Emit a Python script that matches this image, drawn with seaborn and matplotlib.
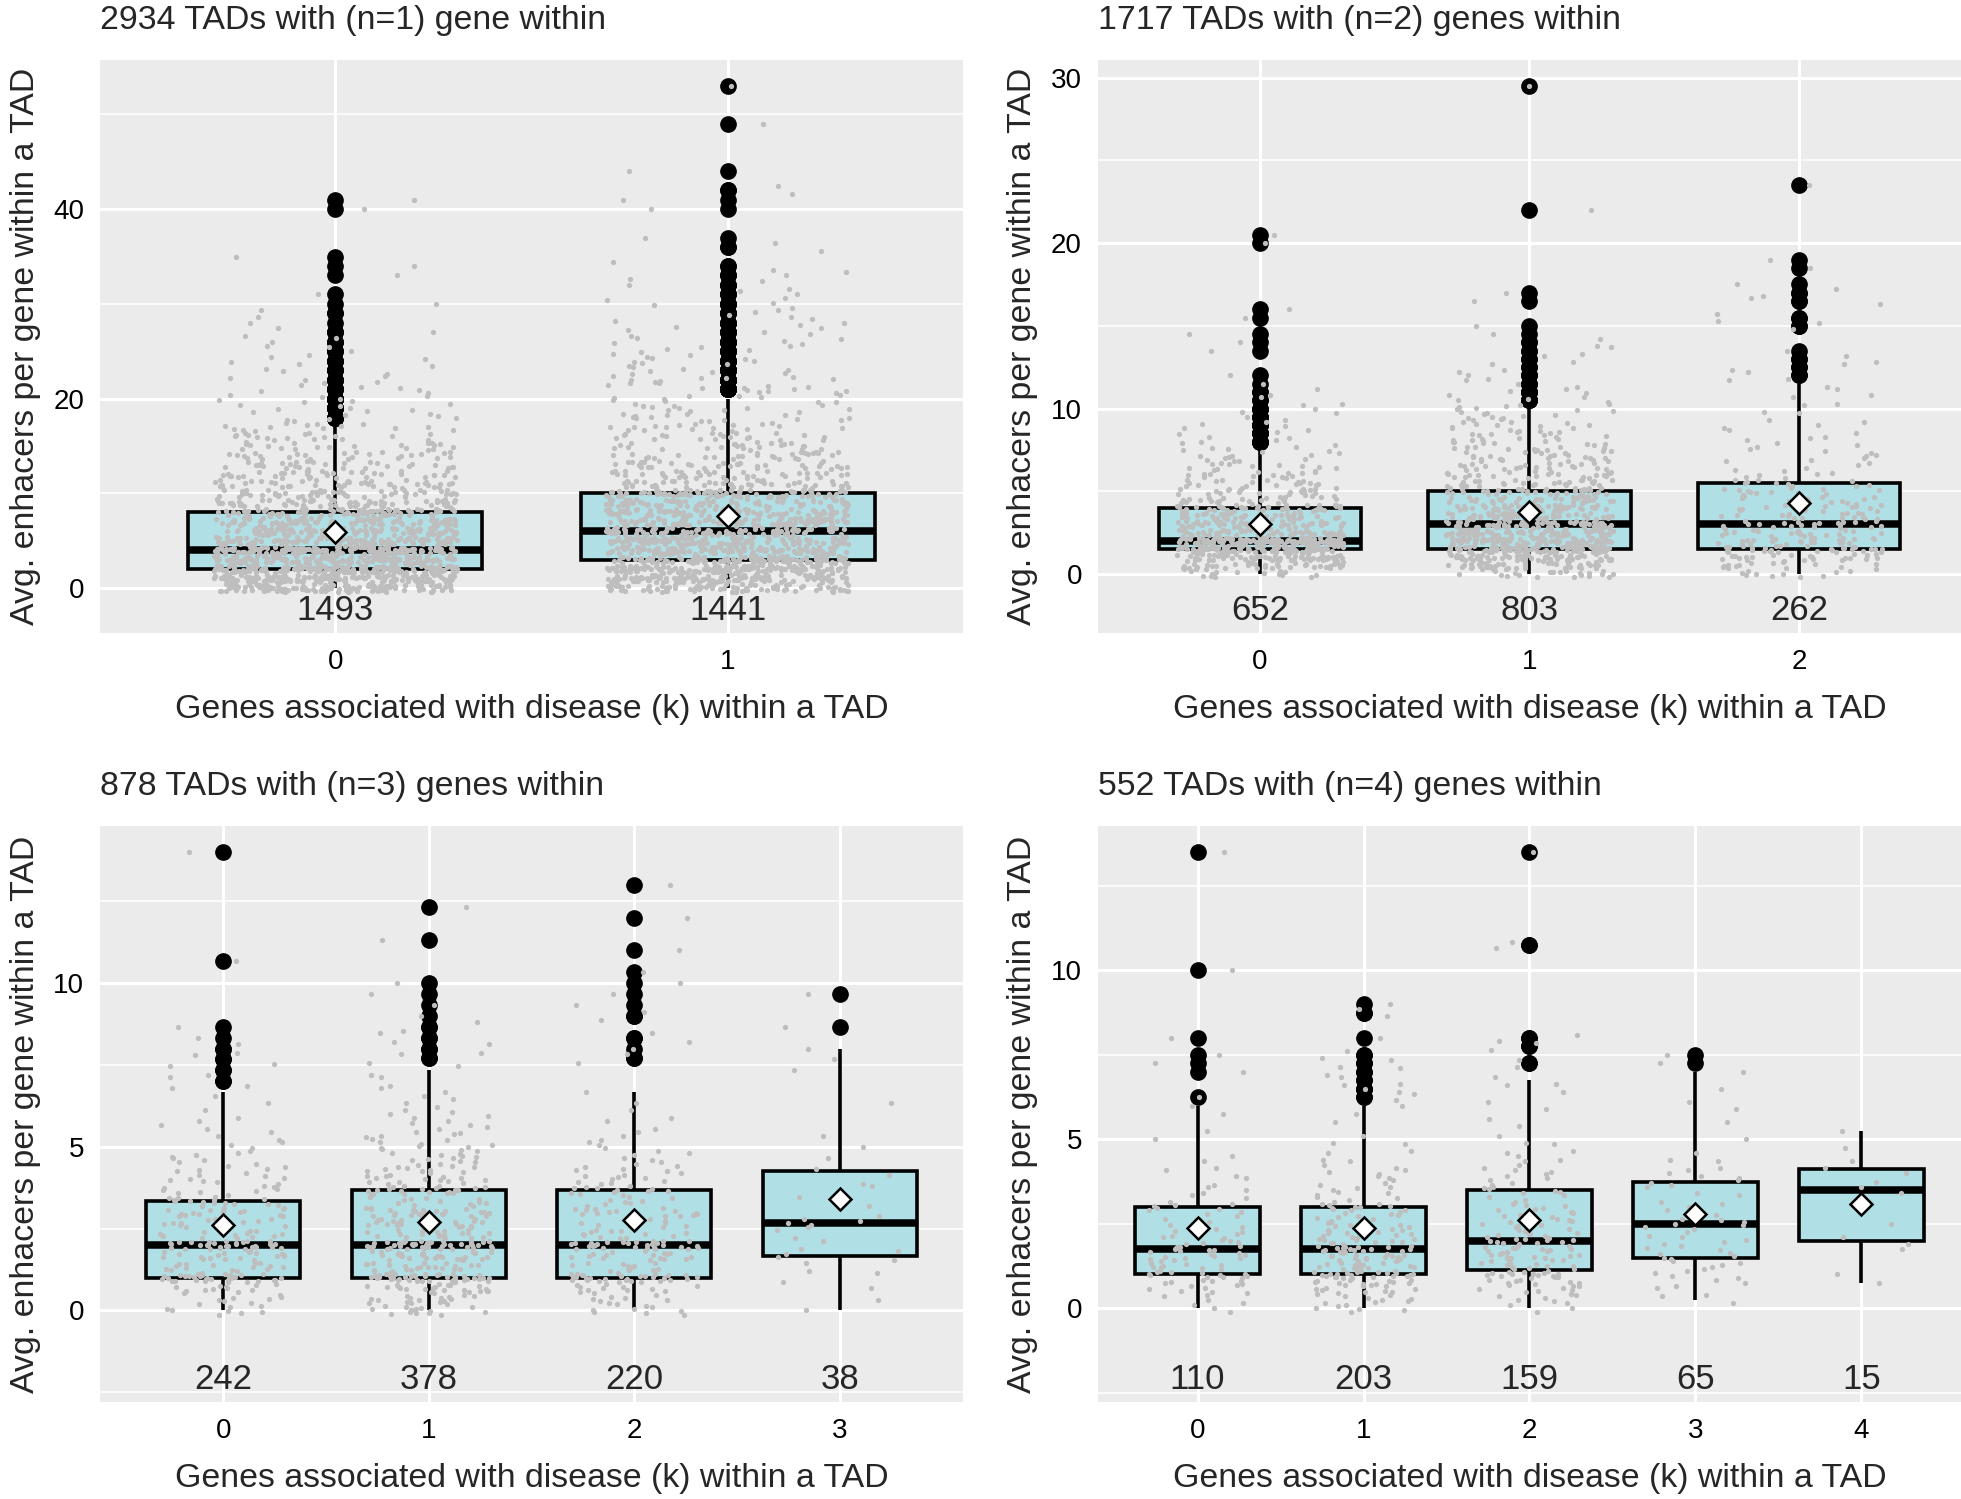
import numpy as np
import pandas as pd
import seaborn as sns
import matplotlib.pyplot as plt
from matplotlib.ticker import FixedLocator

# Avg. enhancers per gene, given as value / count tables.
# Each panel = TADs holding n genes, each group = k disease genes in the TAD.

# n = 1
n1_k = ["0", "1"]
n1_k0_vals = [0, 1, 2, 3, 4, 5, 6, 7, 8, 9, 10, 11, 12, 13, 14, 15, 16, 17, 18, 19, 20,
              21, 22, 23, 24, 25, 26, 27, 28, 29, 30, 31, 33, 34, 35, 40, 41]
n1_k0_cnts = [120, 160, 170, 145, 160, 115, 100, 90, 80, 60, 50, 42, 35, 30, 25, 20, 17, 14, 7, 8, 7,
              6, 5, 4, 4, 3, 3, 3, 1, 2, 1, 1, 1, 1, 1, 1, 1]
n1_k1_vals = [0, 1, 2, 3, 4, 5, 6, 7, 8, 9, 10, 11, 12, 13, 14, 15, 16, 17, 18, 19, 20,
              21, 22, 23, 24, 25, 26, 27, 28, 29, 30, 31, 32, 33, 34, 36, 37, 40, 41, 42, 44, 49, 53]
n1_k1_cnts = [80, 120, 134, 120, 115, 110, 100, 95, 85, 72, 85, 45, 38, 32, 27, 23, 20, 17, 14, 12, 10,
              11, 10, 8, 7, 6, 6, 5, 5, 4, 4, 3, 3, 3, 2, 2, 1, 1, 1, 2, 1, 1, 1]

# n = 2
n2_k = ["0", "1", "2"]
n2_k0_vals = [0, 0.5, 1, 1.5, 2, 2.5, 3, 3.5, 4, 4.5, 5, 5.5, 6, 6.5, 7, 7.5, 8, 8.5, 9, 9.5, 10,
              10.5, 11, 11.5, 12, 13.5, 14, 14.5, 15.5, 16, 20, 20.5]
n2_k0_cnts = [15, 40, 65, 85, 125, 55, 50, 40, 40, 25, 22, 17, 14, 11, 9, 7, 5, 4, 4, 3, 3,
              2, 2, 1, 1, 1, 1, 1, 1, 1, 1, 1]
n2_k1_vals = [0, 0.5, 1, 1.5, 2, 2.5, 3, 3.5, 4, 4.5, 5, 5.5, 6, 6.5, 7, 7.5, 8, 8.5, 9, 9.5, 10,
              10.5, 11, 11.5, 12, 12.5, 13, 13.5, 14, 14.5, 15, 16.5, 17, 22, 29.5]
n2_k1_cnts = [20, 45, 70, 90, 85, 75, 70, 50, 45, 35, 35, 25, 22, 20, 18, 16, 14, 12, 10, 9, 8,
              5, 4, 3, 3, 2, 2, 2, 2, 1, 1, 1, 1, 1, 1]
n2_k2_vals = [0, 0.5, 1, 1.5, 2, 2.5, 3, 3.5, 4, 4.5, 5, 5.5, 6, 6.5, 7, 7.5, 8, 8.5, 9, 9.5, 10,
              10.5, 11, 11.5, 12, 12.5, 13, 13.5, 15, 15.5, 16.5, 17, 17.5, 18.5, 19, 23.5]
n2_k2_cnts = [10, 14, 22, 30, 25, 20, 20, 16, 14, 11, 12, 10, 6, 4, 5, 4, 4, 3, 3, 2, 2,
              2, 2, 2, 2, 2, 2, 1, 2, 2, 2, 2, 1, 1, 1, 1]

# n = 3
n3_k = ["0", "1", "2", "3"]
n3_k0_vals = [0, 0.33, 0.67, 1, 1.33, 1.67, 2, 2.33, 2.67, 3, 3.33, 3.67, 4, 4.33, 4.67, 5, 5.33,
              5.67, 6, 6.33, 6.67, 7, 7.33, 7.67, 8, 8.33, 8.67, 10.67, 14]
n3_k0_cnts = [8, 8, 12, 35, 15, 18, 30, 14, 14, 16, 15, 9, 8, 7, 6, 4, 3,
              3, 2, 1, 2, 2, 2, 2, 2, 1, 1, 1, 1]
n3_k1_vals = [0, 0.33, 0.67, 1, 1.33, 1.67, 2, 2.33, 2.67, 3, 3.33, 3.67, 4, 4.33, 4.67, 5, 5.33,
              5.67, 6, 6.33, 6.67, 7, 7.33, 7.7, 8, 8.33, 8.67, 9, 9.33, 9.67, 10, 11.33, 12.33]
n3_k1_cnts = [15, 16, 22, 45, 22, 28, 45, 20, 22, 25, 12, 20, 14, 12, 10, 9, 7,
              5, 5, 3, 3, 2, 2, 2, 2, 2, 2, 1, 1, 1, 1, 1, 1]
n3_k2_vals = [0, 0.33, 0.67, 1, 1.33, 1.67, 2, 2.33, 2.67, 3, 3.33, 3.67, 4, 4.33, 4.67, 5, 5.33,
              5.67, 6, 6.33, 6.67, 7.7, 8, 8.33, 9, 9.33, 9.67, 10, 10.33, 11, 12, 13]
n3_k2_cnts = [8, 8, 12, 30, 12, 16, 28, 12, 12, 14, 8, 12, 9, 7, 5, 4, 3,
              2, 2, 1, 1, 2, 1, 2, 2, 1, 1, 1, 1, 1, 1, 1]
n3_k3_vals = [0, 0.33, 0.67, 1, 1.33, 1.67, 2, 2.33, 2.67, 3, 3.33, 3.67, 4, 4.33, 4.67, 5, 5.33,
              6.33, 7.33, 7.67, 8, 8.67, 9.67]
n3_k3_cnts = [1, 1, 1, 2, 2, 4, 2, 2, 5, 2, 2, 2, 2, 1, 1, 1, 1,
              1, 1, 1, 1, 1, 1]

# n = 4
n4_k = ["0", "1", "2", "3", "4"]
n4_k0_vals = [0, 0.25, 0.5, 0.75, 1, 1.25, 1.5, 1.75, 2, 2.25, 2.5, 2.75, 3, 3.25, 3.5, 3.75, 4,
              4.25, 4.5, 5, 5.25, 5.75, 6, 6.25, 7, 7.25, 7.5, 8, 10, 13.5]
n4_k0_cnts = [3, 3, 6, 8, 12, 8, 9, 10, 7, 5, 5, 4, 6, 3, 3, 2, 2,
              2, 1, 1, 1, 1, 1, 1, 1, 1, 1, 1, 1, 1]
n4_k1_vals = [0, 0.25, 0.5, 0.75, 1, 1.25, 1.5, 1.75, 2, 2.25, 2.5, 2.75, 3, 3.25, 3.5, 3.75, 4,
              4.25, 4.5, 4.75, 5, 5.5, 5.75, 6, 6.25, 6.5, 6.75, 7, 7.25, 7.5, 8, 8.75, 9]
n4_k1_cnts = [6, 7, 10, 14, 22, 14, 16, 18, 12, 10, 9, 8, 10, 5, 5, 4, 4,
              3, 2, 2, 2, 1, 1, 1, 2, 3, 2, 2, 2, 2, 1, 2, 1]
n4_k2_vals = [0, 0.25, 0.5, 0.75, 1, 1.25, 1.5, 1.75, 2, 2.25, 2.5, 2.75, 3, 3.25, 3.5, 3.75, 4,
              4.25, 4.5, 4.75, 5, 5.5, 6, 6.5, 6.75, 7.25, 7.75, 8, 10.75, 13.5]
n4_k2_cnts = [3, 5, 7, 10, 15, 10, 12, 12, 12, 8, 8, 6, 6, 4, 6, 4, 4,
              3, 3, 2, 2, 2, 2, 2, 2, 2, 2, 2, 2, 1]
n4_k3_vals = [0.25, 0.5, 0.75, 1, 1.25, 1.5, 1.75, 2, 2.25, 2.5, 2.75, 3, 3.25, 3.5, 3.75, 4,
              4.25, 4.5, 5, 5.5, 6, 6.5, 7, 7.25, 7.5]
n4_k3_cnts = [2, 2, 3, 4, 4, 5, 4, 4, 3, 5, 3, 3, 2, 2, 4, 3,
              2, 2, 1, 1, 2, 1, 1, 1, 1]
n4_k4_vals = [0.75, 1, 1.75, 2, 2.5, 3.25, 3.5, 3.75, 4, 4.25, 4.75, 5.25]
n4_k4_cnts = [1, 1, 1, 2, 1, 1, 2, 1, 1, 2, 1, 1]

titles = ["2934 TADs with (n=1) gene within", "1717 TADs with (n=2) genes within",
          "878 TADs with (n=3) genes within", "552 TADs with (n=4) genes within"]
y_major = [[0, 20, 40], [0, 10, 20, 30], [0, 5, 10], [0, 5, 10]]
y_minor = [[10, 30, 50], [5, 15, 25], [-2.5, 2.5, 7.5, 12.5], [-2.5, 2.5, 7.5, 12.5]]

panels = [
    (n1_k, [(n1_k0_vals, n1_k0_cnts), (n1_k1_vals, n1_k1_cnts)], 0.4),
    (n2_k, [(n2_k0_vals, n2_k0_cnts), (n2_k1_vals, n2_k1_cnts), (n2_k2_vals, n2_k2_cnts)], 0.2),
    (n3_k, [(n3_k0_vals, n3_k0_cnts), (n3_k1_vals, n3_k1_cnts), (n3_k2_vals, n3_k2_cnts),
            (n3_k3_vals, n3_k3_cnts)], 0.13),
    (n4_k, [(n4_k0_vals, n4_k0_cnts), (n4_k1_vals, n4_k1_cnts), (n4_k2_vals, n4_k2_cnts),
            (n4_k3_vals, n4_k3_cnts), (n4_k4_vals, n4_k4_cnts)], 0.1),
]

XLABEL = "Genes associated with disease (k) within a TAD"
YLABEL = "Avg. enhacers per gene within a TAD"
COUNT_Y = -2
BOX_FILL = "#B0E0E6"
POINT_GREY = "#BEBEBE"

sns.set_style("darkgrid", {"axes.facecolor": "#EBEBEB", "grid.color": "white"})
plt.rcParams["font.family"] = ["Liberation Sans", "DejaVu Sans"]
np.random.seed(3)

fig = plt.figure(figsize=(19.61, 14.99), dpi=100)
positions = [(0.0510, 0.5777, 0.4401, 0.3823), (0.5599, 0.5777, 0.4401, 0.3823),
             (0.0510, 0.0647, 0.4401, 0.3843), (0.5599, 0.0647, 0.4401, 0.3843)]


def build_frame(cats, groups, height):
    rows = []
    for cat, (vals, cnts) in zip(cats, groups):
        for v, c in zip(vals, cnts):
            # vertical jitter like geom_jitter: spread tied values over +-height
            offs = np.linspace(-height, height, c) if c > 1 else [0.0]
            for o in offs:
                rows.append((cat, v, v + o))
    return pd.DataFrame(rows, columns=["k", "value", "shown"])


for i, (cats, groups, jh) in enumerate(panels):
    ax = fig.add_axes(positions[i])
    df = build_frame(cats, groups, jh)

    sns.boxplot(data=df, x="k", y="value", order=cats, ax=ax, width=0.75,
                color=BOX_FILL, saturation=1, linecolor="black", linewidth=2.6,
                fliersize=11, showcaps=False,
                medianprops={"linewidth": 5.4},
                flierprops={"marker": "o", "markerfacecolor": "black",
                            "markeredgecolor": "black"})
    sns.stripplot(data=df, x="k", y="shown", order=cats, ax=ax, color=POINT_GREY,
                  size=3.8, jitter=0.31, linewidth=0, zorder=3)
    sns.pointplot(data=df, x="k", y="value", order=cats, ax=ax, estimator="mean",
                  errorbar=None, linestyle="none", marker="D", color="white",
                  markersize=11.5, markeredgecolor="black", markeredgewidth=1.8,
                  zorder=5)

    for j, (vals, cnts) in enumerate(groups):
        ax.text(j, COUNT_Y, str(sum(cnts)), ha="center", va="center_baseline",
                fontsize=25, zorder=6)

    top = df["value"].max()
    span = top - COUNT_Y
    ax.set_xlim(-0.6, len(cats) - 0.4)
    ax.set_ylim(COUNT_Y - 0.05 * span, top + 0.05 * span)
    ax.yaxis.set_major_locator(FixedLocator(y_major[i]))
    ax.yaxis.set_minor_locator(FixedLocator(y_minor[i]))
    ax.grid(True, which="major", color="white", linewidth=2.2)
    ax.grid(True, which="minor", axis="y", color="white", linewidth=1.1)
    ax.set_axisbelow(True)
    ax.tick_params(which="major", length=5.5, width=2.2, color="#333333",
                   labelsize=20, labelcolor="black")
    ax.tick_params(axis="x", pad=6)
    ax.tick_params(axis="y", pad=6)
    ax.tick_params(which="minor", length=0)
    for s in ax.spines.values():
        s.set_visible(False)

    ax.set_xlabel(XLABEL, fontsize=24.4, labelpad=14)
    ax.set_ylabel(YLABEL, fontsize=24.4, labelpad=9)
    ax.set_title(titles[i], loc="left", fontsize=24.4, pad=22)

fig.savefig("out.png", dpi=100)
